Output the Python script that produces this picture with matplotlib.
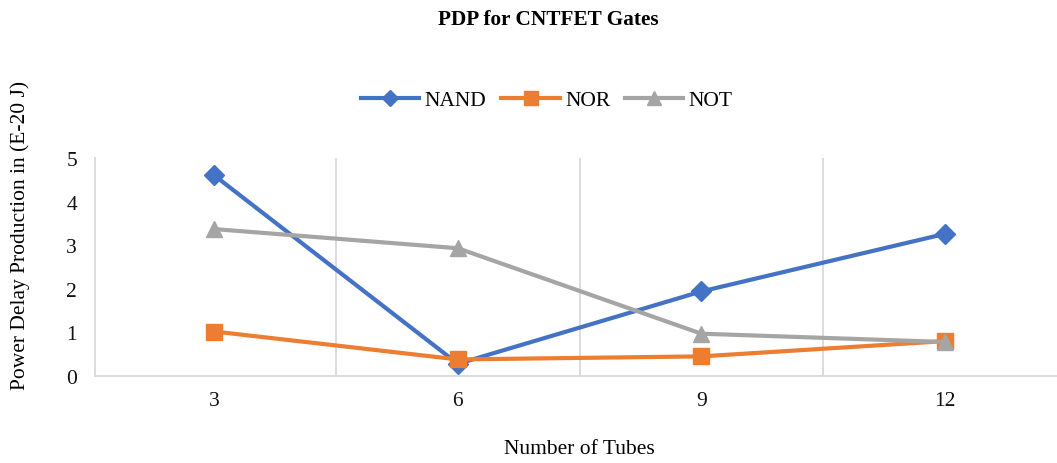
import matplotlib.pyplot as plt

# Data
tubes = ["3", "6", "9", "12"]
nand = [4.60, 0.28, 1.94, 3.26]
nor = [1.02, 0.38, 0.45, 0.80]
not_gate = [3.37, 2.93, 0.97, 0.78]

plt.rcParams["font.family"] = ["Liberation Serif", "DejaVu Serif"]

fig = plt.figure(figsize=(10.57, 4.64), dpi=100)
ax = fig.add_axes([95 / 1057, 1 - 377 / 464, (1057 - 95) / 1057, (377 - 159) / 464])

xs = range(len(tubes))
ax.plot(xs, nand, color="#4472C4", linewidth=3, marker="D", markersize=10, label="NAND")
ax.plot(xs, nor, color="#ED7D31", linewidth=3, marker="s", markersize=11.5, label="NOR")
ax.plot(xs, not_gate, color="#A5A5A5", linewidth=3, marker="^", markersize=12, label="NOT")

ax.set_xlim(-0.49, 3.46)
ax.set_ylim(0, 5)
ax.set_xticks(list(xs))
ax.set_xticklabels(tubes)
ax.set_yticks(range(6))
for b in [0.5, 1.5, 2.5]:
    ax.axvline(b, color="#D9D9D9", linewidth=1.3, zorder=0)
for s in ["top", "right"]:
    ax.spines[s].set_visible(False)
for s in ["left", "bottom"]:
    ax.spines[s].set_color("#D9D9D9")
    ax.spines[s].set_linewidth(1.3)
ax.tick_params(length=0, labelsize=15.5, colors="#111111")
ax.tick_params(axis="x", pad=11)
ax.tick_params(axis="y", pad=13)

fig.text(579 / 1057, 1 - 450 / 464, "Number of Tubes", ha="center", va="center", fontsize=15.5)
fig.text(20 / 1057, 1 - 235 / 464, "Power Delay Production in (E-20 J)", ha="center", va="center",
         rotation=90, fontsize=15.5)

fig.text(548 / 1057, 1 - 20 / 464, "PDP for CNTFET Gates", ha="center", va="center",
         fontsize=15.3, fontweight="bold")
fig.legend(loc="center", bbox_to_anchor=(547 / 1057, 1 - 101 / 464), ncol=3, frameon=False,
           fontsize=15.5, handlelength=2.7, columnspacing=0.7, handletextpad=0.25,
           markerscale=0.85)

fig.savefig("out.png", dpi=100)
